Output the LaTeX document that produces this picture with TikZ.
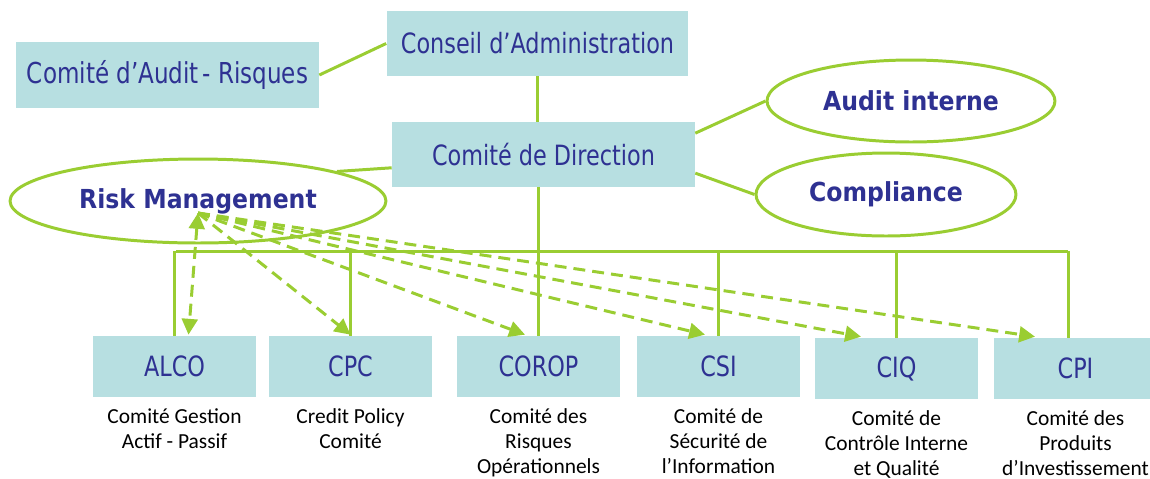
\documentclass[tikz,border=0pt]{standalone}
\usepackage{fontspec}
\setmainfont{Carlito}
\newfontfamily\boxfont[FakeStretch=0.8]{DejaVu Sans}
\newfontfamily\ovalfont[FakeStretch=0.9]{DejaVu Sans}
\usepackage{tikz}
\usetikzlibrary{arrows.meta,positioning,shapes,calc}

\definecolor{boxcyan}{RGB}{183,223,225}
\definecolor{navy}{RGB}{46,49,146}
\definecolor{leaf}{RGB}{154,205,50}

\begin{document}
\begin{tikzpicture}[x=0.02cm,y=-0.02cm,
  box/.style={rectangle,fill=boxcyan,text=navy,inner sep=0pt,
    font=\boxfont\fontsize{15.9}{18}\selectfont},
  oval/.style={ellipse,draw=leaf,line width=1.7pt,fill=white,text=navy,inner sep=0pt,
    font=\ovalfont\bfseries\fontsize{14.9}{17}\selectfont},
  note/.style={align=center,inner sep=0pt,font=\fontsize{12.2}{14.1}\selectfont},
  link/.style={draw=leaf,line width=1.7pt},
  dasharrow/.style={link,dash pattern=on 6.8pt off 4pt,
    -{Triangle[length=9pt,width=9pt]}}]
  \useasboundingbox (0,0) rectangle (1150,478);

  % Board and management
  \node[box,minimum width=6.04cm,minimum height=1.3cm] (ca) at (537.5,43.5) {Conseil d’Administration};
  \node[box,minimum width=6.06cm,minimum height=1.32cm,
    font=\boxfont\fontsize{16.4}{18}\selectfont] (ar) at (167.5,75) {Comité d’Audit\hspace{2pt}- Risques};
  \node[box,minimum width=6.06cm,minimum height=1.3cm] (cd) at (543.5,154.5) {Comité de Direction};

  % Control functions
  \node[oval,minimum width=7.52cm,minimum height=1.68cm] (rm) at (198,201) {Risk Management};
  \node[oval,minimum width=5.76cm,minimum height=1.64cm] (ai) at (911,101) {Audit interne};
  \node[oval,minimum width=5.2cm,minimum height=1.66cm] (co) at (886,194.5) {Compliance};

  \draw[link] (ar.east) -- (ca.west);
  \draw[link] (ca.south) -- (ca.south |- cd.north);
  \draw[link] (cd.8) -- (ai.west);
  \draw[link] (cd.-7) -- (co.west);
  \draw[link] (cd.185) -- (rm.12);

  % Committees
  \foreach \n/\x/\y/\t/\d in {
      alco/174.5/366.5/ALCO/{Comité Gestion\\Actif - Passif},
      cpc/350.5/366.5/CPC/{Credit Policy\\Comité},
      corop/538.5/366.5/COROP/{Comité des\\Risques\\Opérationnels},
      csi/718.5/366.5/CSI/{Comité de\\Sécurité de\\l’Information},
      ciq/896.5/368.5/CIQ/{Comité de\\Contrôle Interne\\et Qualité},
      cpi/1075.5/368.5/CPI/{Comité des\\Produits\\d’Investissement}} {
    \node[box,minimum width=3.26cm,minimum height=1.22cm] (\n) at (\x,\y) {\t};
    \node[note,below=0.22cm of \n] (\n-txt) {\d};
  }

  % Reporting lines from the management committee
  \coordinate (busL) at (176,251);
  \coordinate (busR) at (1068,251);
  \draw[link] (busL) -- (busR);
  \draw[link] (corop.north) -- (corop.north |- cd.south);
  \foreach \n in {alco,cpc,csi,ciq} {
    \draw[link] (\n.north) -- (\n.north |- busL);
  }
  \draw[link] (busR |- cpi.north) -- (busR);

  % Risk management links
  \coordinate (rmtip) at (198,213);
  \draw[dasharrow,{Triangle[length=9pt,width=9pt]}-{Triangle[length=9pt,width=9pt]}]
    (rmtip) -- ($(alco.north)+(14,-1)$);
  \foreach \n/\dx in {cpc/0,corop/-13.5,csi/-13.5,ciq/-35.5,cpi/-40.5} {
    \draw[dasharrow] (rmtip) -- ($(\n.north)+(\dx,-1)$);
  }
\end{tikzpicture}
\end{document}
